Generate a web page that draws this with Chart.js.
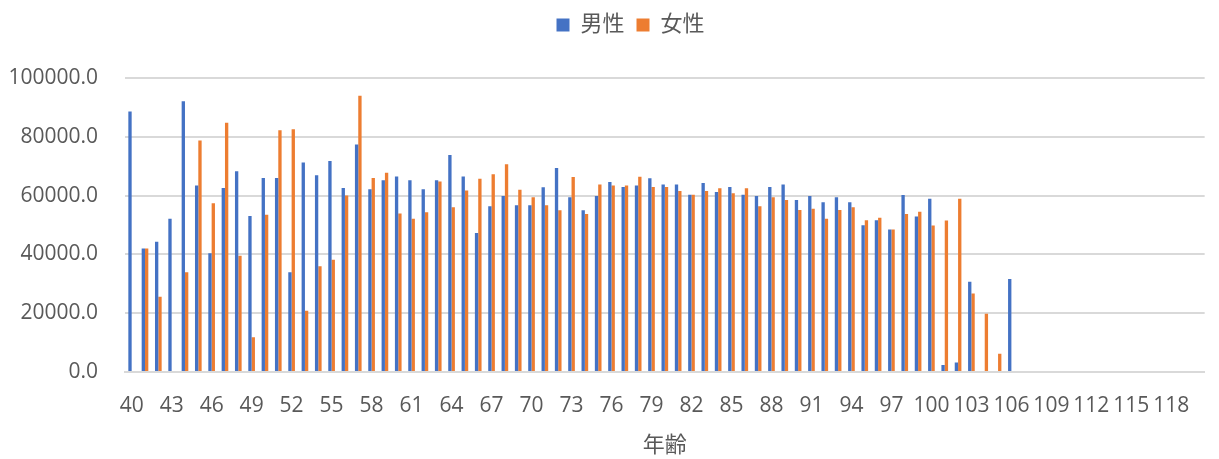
<!DOCTYPE html>
<html lang="ja">
<head>
<meta charset="utf-8">
<title>年齢別 男性・女性</title>
<script src="https://cdn.jsdelivr.net/npm/chart.js@4"></script>
<style>
  html, body { margin: 0; padding: 0; background: #fff; }
  #wrap { width: 1219px; height: 459px; }
</style>
</head>
<body>
<div id="wrap"><canvas id="grafico"></canvas></div>
<script>
// 1. DADOS
const idades = [40, 41, 42, 43, 44, 45, 46, 47, 48, 49, 50, 51, 52, 53, 54, 55, 56, 57, 58, 59,
  60, 61, 62, 63, 64, 65, 66, 67, 68, 69, 70, 71, 72, 73, 74, 75, 76, 77, 78, 79,
  80, 81, 82, 83, 84, 85, 86, 87, 88, 89, 90, 91, 92, 93, 94, 95, 96, 97, 98, 99,
  100, 101, 102, 103, 104, 105, 106, 107, 108, 109, 110, 111, 112, 113, 114, 115, 116, 117, 118, 119, 120];

const masculino = [88600, 42000, 44300, 52100, 92100, 63400, 40400, 62600, 68300, 53100,
  66000, 66000, 33900, 71300, 66900, 71800, 62600, 77400, 62200, 65200,
  66500, 65200, 62200, 65200, 73800, 66500, 47300, 56400, 59900, 56700,
  56700, 62800, 69400, 59400, 55000, 59900, 64600, 62900, 63400, 65900,
  63800, 63800, 60300, 64300, 61200, 62900, 60300, 59900, 62900, 63800,
  58500, 59900, 57700, 59400, 57700, 49900, 51600, 48500, 60200, 52900,
  58900, 2400, 3200, 30700, null, null, 31600,
  null, null, null, null, null, null, null, null, null, null, null, null, null, null];

const feminino = [null, 42000, 25600, null, 33900, 78700, 57400, 84800, 39500, 11800,
  53500, 82200, 82600, 20800, 36000, 38200, 60000, 94000, 66000, 67800,
  53900, 52100, 54300, 64800, 56000, 61700, 65700, 67300, 70700, 62000,
  59400, 56700, 55000, 66300, 53700, 63800, 63400, 63400, 66400, 62900,
  62900, 61600, 60300, 61600, 62500, 60800, 62500, 56400, 59400, 58500,
  55100, 55500, 52100, 55100, 56000, 51600, 52500, 48500, 53700, 54500,
  49800, 51500, 58900, 26700, 19800, 6200, null,
  null, null, null, null, null, null, null, null, null, null, null, null, null, null];

const nomesSeries = ['男性', '女性'];
const marcasY = [0, 20000, 40000, 60000, 80000, 100000];

// 2. ESTILO
const corTexto = '#595959';
const corGrade = '#d9d9d9';
const fonteBase = "'Open Sans', 'Noto Sans CJK JP', sans-serif";

// legenda mais alta (desce a área do gráfico) e deslocada para a direita
const ajusteLegenda = {
  id: 'ajusteLegenda',
  beforeInit(chart) {
    const fitOriginal = chart.legend.fit;
    chart.legend.fit = function () {
      fitOriginal.bind(chart.legend)();
      this.height = 76;
    };
  },
  afterLayout(chart) {
    chart.legend.left += 42;
    chart.legend.right += 0;
  }
};

const config = {
  type: 'bar',
  data: {
    labels: idades,
    datasets: [
      { label: nomesSeries[0], data: masculino, backgroundColor: '#4472c4' },
      { label: nomesSeries[1], data: feminino, backgroundColor: '#ed7d31' }
    ]
  },
  options: {
    responsive: true,
    maintainAspectRatio: false,
    animation: false,
    layout: { padding: { left: 0, right: 0, top: 2, bottom: 0 } },
    datasets: { bar: { categoryPercentage: 0.5, barPercentage: 1.0 } },
    plugins: {
      legend: {
        position: 'top',
        labels: {
          color: corTexto,
          font: { family: fonteBase, size: 22 },
          boxWidth: 13,
          boxHeight: 13,
          padding: 12
        }
      },
      tooltip: { enabled: false }
    },
    scales: {
      x: {
        grid: { display: false, drawTicks: false },
        border: { display: true, color: corGrade, width: 2 },
        ticks: {
          color: corTexto,
          font: { family: fonteBase, size: 21 },
          autoSkip: false,
          maxRotation: 0,
          padding: 21,
          callback: function (valor, i) {
            return i % 3 === 0 ? String(idades[i]) : '';
          }
        },
        title: {
          display: true,
          text: '年齢',
          color: corTexto,
          font: { family: fonteBase, size: 22 },
          padding: { top: 0, bottom: 0 }
        },
        afterFit: function (escala) { escala.height = 87; }
      },
      y: {
        min: marcasY[0],
        max: marcasY[marcasY.length - 1],
        grid: { color: corGrade, lineWidth: 2, drawTicks: false },
        border: { display: false },
        ticks: {
          stepSize: marcasY[1] - marcasY[0],
          color: corTexto,
          font: { family: fonteBase, size: 21 },
          padding: 27,
          callback: function (valor) { return valor.toFixed(1); }
        },
        afterFit: function (escala) { escala.width = 125; }
      }
    }
  },
  plugins: [ajusteLegenda]
};

new Chart(document.getElementById('grafico'), config);
</script>
</body>
</html>
